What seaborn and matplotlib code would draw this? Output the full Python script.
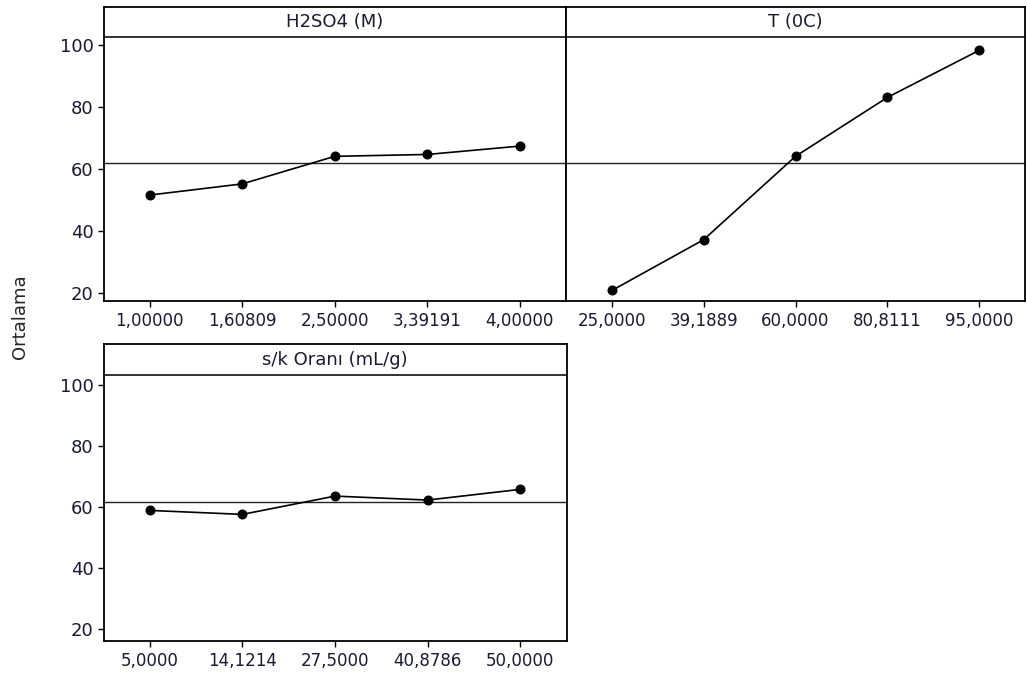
import matplotlib
matplotlib.use("Agg")
import matplotlib.pyplot as plt
import seaborn as sns
import pandas as pd

# ---- data ----
h2so4_levels = ["1,00000", "1,60809", "2,50000", "3,39191", "4,00000"]
h2so4_means = [51.5, 55.1, 64.0, 64.6, 67.3]

temp_levels = ["25,0000", "39,1889", "60,0000", "80,8111", "95,0000"]
temp_means = [20.7, 37.1, 64.0, 83.0, 98.2]

ratio_levels = ["5,0000", "14,1214", "27,5000", "40,8786", "50,0000"]
ratio_means = [58.9, 57.6, 63.6, 62.3, 65.8]

panel_titles = ["H2SO4 (M)", "T (0C)", "s/k Oranı (mL/g)"]
grand_mean = 61.8
y_ticks = [20, 40, 60, 80, 100]
y_label = "Ortalama"

sns.set_theme(style="white")
plt.rcParams["font.family"] = ["DejaVu Sans"]

W, H = 1027, 678
fig = plt.figure(figsize=(W / 100, H / 100), dpi=100)
fig.patch.set_facecolor("white")


def px_axes(left, top, right, bottom):
    return fig.add_axes([left / W, 1 - bottom / H, (right - left) / W, (bottom - top) / H])


panels = [
    # (levels, means, title, box px, ylim, strip y, show y labels)
    (h2so4_levels, h2so4_means, panel_titles[0], (103.5, 7, 566, 301), (17.3, 112.2), 102.6, True),
    (temp_levels, temp_means, panel_titles[1], (566, 7, 1025, 301), (17.3, 112.2), 102.6, False),
    (ratio_levels, ratio_means, panel_titles[2], (103.5, 344, 566.5, 641), (16.06, 113.5), 103.2, True),
]

text_color = "#1a1a33"

for levels, means, title, box, ylim, strip_y, show_y in panels:
    ax = px_axes(*box)
    df = pd.DataFrame({"level": levels, "mean": means})
    sns.pointplot(data=df, x="level", y="mean", order=levels, color="black",
                  markers="o", markersize=6.3, linewidth=1.2, errorbar=None, ax=ax)
    ax.axhline(grand_mean, color="#222222", lw=1.0, zorder=1)
    ax.axhline(strip_y, color="#222222", lw=1.3, zorder=1)
    ax.set_xlim(-0.5, len(levels) - 0.5)
    ax.set_ylim(*ylim)
    ax.set_yticks(y_ticks)
    ax.set_xlabel("")
    ax.set_ylabel("")
    ax.text(0.5, (strip_y + ylim[1]) / 2, title, transform=ax.get_yaxis_transform(),
            ha="center", va="center", fontsize=13, color=text_color)
    for sp in ax.spines.values():
        sp.set_color("black")
        sp.set_linewidth(1.3)
    ax.tick_params(axis="x", direction="out", length=4, width=1, color="black",
                   labelsize=12, labelcolor=text_color, bottom=True, pad=4)
    if show_y:
        ax.tick_params(axis="y", direction="out", length=4, width=1, color="black",
                       labelsize=13, labelcolor=text_color, left=True, pad=3)
    else:
        ax.tick_params(axis="y", left=False, labelleft=False)
    ax.grid(False)

fig.text(20 / W, 1 - 317 / H, y_label, rotation=90, ha="center", va="center",
         fontsize=13, color="#222222")

fig.savefig("out.png", dpi=100, facecolor="white")
